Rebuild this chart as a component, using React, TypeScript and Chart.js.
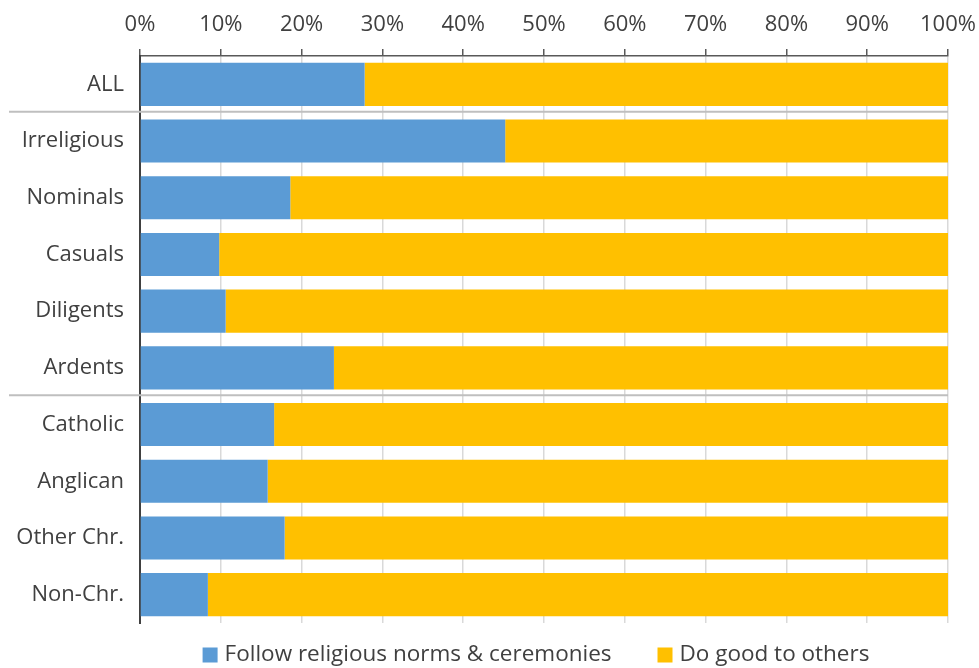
import React, { useEffect, useRef } from "react";
import { Chart, registerables } from "chart.js";

Chart.register(...registerables);

const categories = ["ALL", "Irreligious", "Nominals", "Casuals", "Diligents", "Ardents", "Catholic", "Anglican", "Other Chr.", "Non-Chr."];
const followNorms = [27.8, 45.2, 18.6, 9.8, 10.6, 24.0, 16.6, 15.8, 17.9, 8.4];
const doGood = [72.2, 54.8, 81.4, 90.2, 89.4, 76.0, 83.4, 84.2, 82.1, 91.6];
const seriesNames = ["Follow religious norms & ceremonies", "Do good to others"];
const seriesColors = ["#5B9BD5", "#FFC000"];
const separatorsAfter = [0, 5];

const FONT = "'Open Sans', sans-serif";
const TEXT = "#404040";
const FS = 22;

const separatorPlugin = {
  id: "separators",
  afterDatasetsDraw(chart: any) {
    const { ctx, chartArea, scales } = chart;
    const y = scales.y;
    ctx.save();
    ctx.strokeStyle = "#bfbfbf";
    ctx.lineWidth = 2;
    separatorsAfter.forEach((i) => {
      const yy = (y.getPixelForValue(i) + y.getPixelForValue(i + 1)) / 2 - 1;
      ctx.beginPath();
      ctx.moveTo(9, yy);
      ctx.lineTo(chartArea.right, yy);
      ctx.stroke();
    });
    ctx.restore();
  },
};

const legendPlugin = {
  id: "customLegend",
  afterDraw(chart: any) {
    const { ctx, chartArea } = chart;
    const box = 15;
    const gapText = 7;
    const gapItems = 46;
    ctx.save();
    ctx.font = `22.5px ${FONT}`;
    const widths = seriesNames.map((n) => ctx.measureText(n).width);
    const total = widths.reduce((a, w) => a + box + gapText + w, 0) + gapItems * (seriesNames.length - 1);
    const center = (chartArea.left + chartArea.right) / 2 - 8;
    let x = center - total / 2;
    const yc = 655;
    ctx.textBaseline = "middle";
    ctx.textAlign = "left";
    seriesNames.forEach((n, i) => {
      ctx.fillStyle = seriesColors[i];
      ctx.fillRect(x, yc - box / 2, box, box);
      x += box + gapText;
      ctx.fillStyle = TEXT;
      ctx.fillText(n, x, yc);
      x += widths[i] + gapItems;
    });
    ctx.restore();
  },
};

export default function App() {
  const ref = useRef<HTMLCanvasElement>(null);
  useEffect(() => {
    const chart = new Chart(ref.current!, {
      type: "bar",
      data: {
        labels: categories,
        datasets: [
          { label: seriesNames[0], data: followNorms, backgroundColor: seriesColors[0], borderWidth: 0 },
          { label: seriesNames[1], data: doGood, backgroundColor: seriesColors[1], borderWidth: 0 },
        ],
      },
      options: {
        indexAxis: "y",
        animation: false,
        responsive: false,
        maintainAspectRatio: false,
        layout: { padding: { left: 0, right: 31, top: 0, bottom: 45 } },
        datasets: { bar: { categoryPercentage: 1, barPercentage: 0.76 } },
        scales: {
          x: {
            position: "top",
            stacked: true,
            min: 0,
            max: 100,
            ticks: {
              stepSize: 10,
              callback: (v: any) => v + "%",
              color: TEXT,
              font: { family: FONT, size: FS },
              padding: 11,
              maxRotation: 0,
            },
            grid: { color: "#d9d9d9", lineWidth: 1.5, tickLength: 7, tickColor: "#595959", tickWidth: 1.5 },
            border: { color: "#595959", width: 1.5 },
            afterFit: (s: any) => { s.height = 56; s.paddingLeft = 0; s.paddingRight = 0; },
          },
          y: {
            stacked: true,
            ticks: { color: TEXT, font: { family: FONT, size: FS }, padding: 8 },
            grid: { display: false },
            border: { color: "#404040", width: 2 },
            afterFit: (s: any) => { s.width = 140; s.paddingTop = 0; s.paddingBottom = 0; },
          },
        },
        plugins: {
          legend: { display: false },
          tooltip: { enabled: false },
        },
      },
      plugins: [separatorPlugin, legendPlugin],
    });
    return () => chart.destroy();
  }, []);
  return (
    <div style={{ position: "absolute", left: 0, top: 0, width: 979, height: 668, background: "#fff" }}>
      <canvas ref={ref} width={979} height={668} style={{ width: 979, height: 668 }} />
    </div>
  );
}
